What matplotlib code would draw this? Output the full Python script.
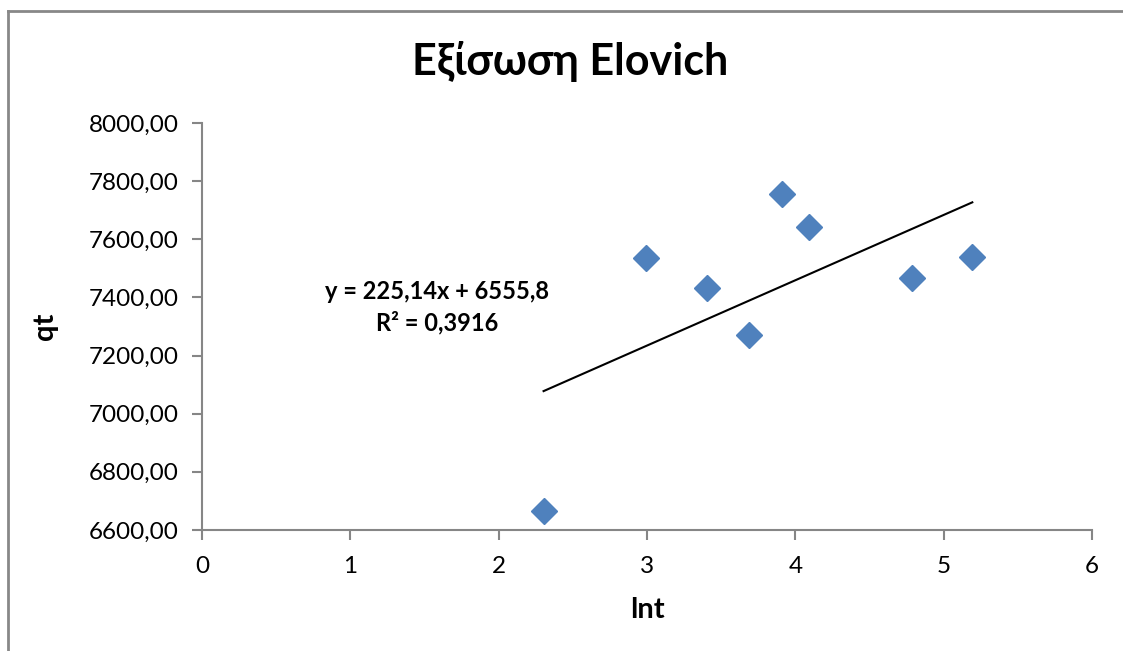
import numpy as np
import matplotlib
matplotlib.use("Agg")
import matplotlib.pyplot as plt
from matplotlib.lines import Line2D
from matplotlib.ticker import FuncFormatter

plt.rcParams['font.family'] = ['Lato', 'Open Sans', 'DejaVu Sans']

# Data
lnt = [2.3026, 2.9957, 3.4012, 3.6889, 3.9120, 4.0943, 4.7875, 5.1930]
qt = [6665, 7535, 7432, 7271, 7756, 7642, 7467, 7539]
x_ticks = [0, 1, 2, 3, 4, 5, 6]
y_ticks = [6600, 6800, 7000, 7200, 7400, 7600, 7800, 8000]
title = "Εξίσωση Elovich"
eq_text = "y = 225,14x + 6555,8\nR² = 0,3916"

fig = plt.figure(figsize=(11.23, 6.51), dpi=100)
ax = fig.add_axes([0.1799, 0.1859, 0.9724 - 0.1799, 0.8111 - 0.1859])

ax.plot(lnt, qt, linestyle='none', marker='D', markersize=13,
        color='#4F81BD', markeredgecolor='#4F81BD', zorder=3)

coef = np.polyfit(lnt, qt, 1)
xs = np.array([min(lnt), max(lnt)])
ax.plot(xs, np.polyval(coef, xs), color='black', lw=1.5, zorder=2)

ax.set_xlim(0, 6)
ax.set_ylim(6600, 8000)
ax.set_xticks(x_ticks)
ax.set_yticks(y_ticks)
ax.yaxis.set_major_formatter(FuncFormatter(lambda v, p: f"{v:.2f}".replace('.', ',')))

for s in ['top', 'right']:
    ax.spines[s].set_visible(False)
for s in ['left', 'bottom']:
    ax.spines[s].set_color('#868686')
    ax.spines[s].set_linewidth(1.5)
ax.tick_params(axis='both', colors='#868686', length=7, width=1.5,
               labelsize=17.5, labelcolor='black')
ax.tick_params(axis='x', pad=12)
ax.tick_params(axis='y', pad=10)

ax.set_xlabel("lnt", fontsize=21, fontweight='bold', labelpad=14)
ax.set_ylabel("qt", fontsize=21, fontweight='bold', labelpad=22)

fig.text(570 / 1123, 1 - 62 / 651, title, fontsize=31, fontweight='bold',
         ha='center', va='center')
ax.text(437 / 1123, 1 - 307 / 651, eq_text, transform=fig.transFigure,
        fontsize=17, fontweight='bold', ha='center', va='center',
        linespacing=1.4)

# chart border
fig.add_artist(Line2D([8 / 1123, 1.0], [1 - 11 / 651] * 2,
                      transform=fig.transFigure, color='#888888', lw=2))
fig.add_artist(Line2D([8 / 1123] * 2, [0, 1 - 11 / 651],
                      transform=fig.transFigure, color='#888888', lw=2))

fig.savefig("out.png", dpi=100)
